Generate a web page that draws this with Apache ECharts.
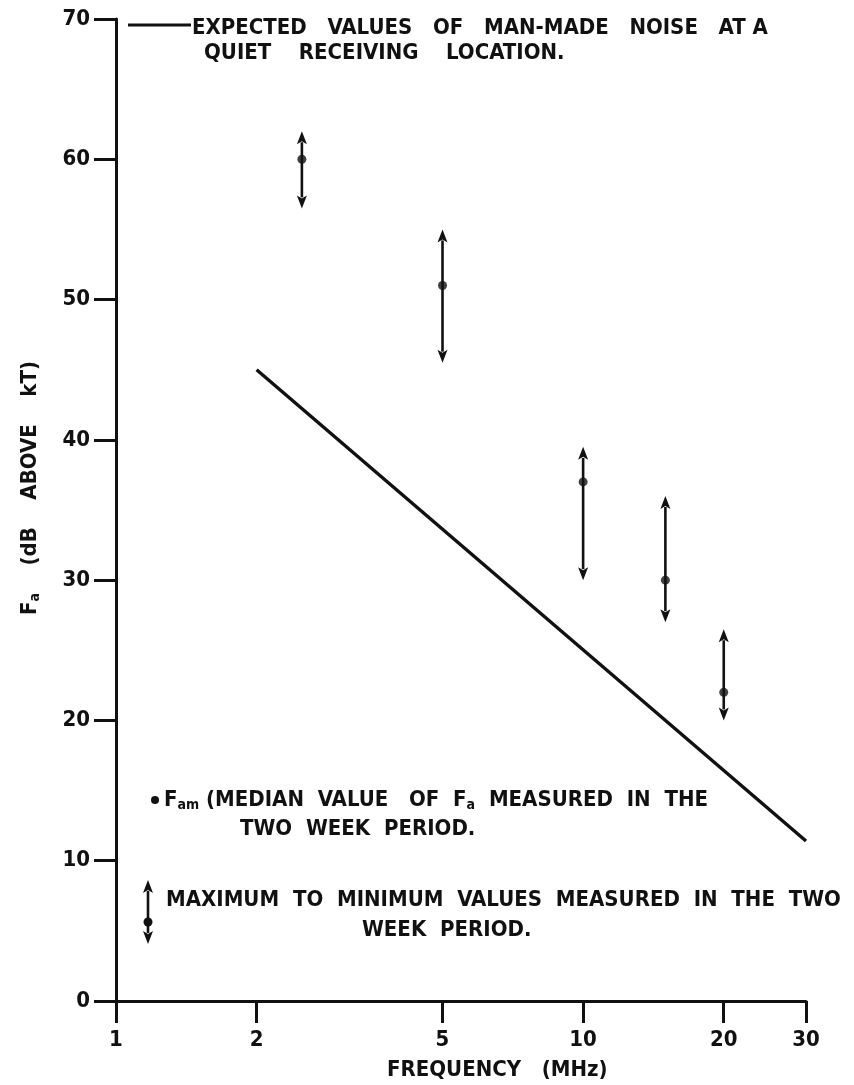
<!DOCTYPE html>
<html>
<head>
<meta charset="utf-8">
<script src="https://cdn.jsdelivr.net/npm/echarts@6/dist/echarts.min.js"></script>
<style>
  html, body { margin: 0; padding: 0; background: #fff; }
  #chart { width: 854px; height: 1085px; }
</style>
</head>
<body>
<div id="chart"></div>
<script>
// Measured noise figure Fa (dB above kT) per frequency (MHz)
const frequencies = [2.5, 5, 10, 15, 20];
const medianFa = [60, 51, 37, 30, 22];
const maxFa = [62, 55, 39.5, 36, 26.5];
const minFa = [56.5, 45.5, 30, 27, 20];

// Expected man-made noise at a quiet receiving location
const expectedFreq = [2, 30];
const expectedFa = [45, 11.4];

// Axis ticks
const xTicks = [1, 2, 5, 10, 20, 30];
const yMin = 0, yMax = 70, yStep = 10;

const FONT = "'DejaVu Sans Condensed', 'DejaVu Sans', sans-serif";
const INK = '#111';
const FS = 22;

const chart = echarts.init(document.getElementById('chart'), null, { renderer: 'canvas' });

const rangeData = frequencies.map((f, i) => [f, maxFa[i], minFa[i]]);
const medianData = frequencies.map((f, i) => [f, medianFa[i]]);
const expectedData = expectedFreq.map((f, i) => [f, expectedFa[i]]);

// Double-headed arrow from minimum to maximum
function arrowShapes(x, yTop, yBot) {
  const ah = 13, aw = 5;
  return [
    { type: 'line', shape: { x1: x, y1: yTop + ah - 2, x2: x, y2: yBot - ah + 2 },
      style: { stroke: INK, lineWidth: 2.6 } },
    { type: 'polygon', shape: { points: [[x, yTop], [x - aw, yTop + ah], [x, yTop + ah - 3], [x + aw, yTop + ah]] },
      style: { fill: INK } },
    { type: 'polygon', shape: { points: [[x, yBot], [x - aw, yBot - ah], [x, yBot - ah + 3], [x + aw, yBot - ah]] },
      style: { fill: INK } }
  ];
}

const textStyle = (size) => ({ fill: INK, font: `bold ${size}px ${FONT}` });
const subRich = {
  f: { fontFamily: FONT, fontWeight: 'bold', fontSize: FS, fill: INK },
  s: { fontFamily: FONT, fontWeight: 'bold', fontSize: 14, fill: INK, padding: [10, 0, 0, 0] },
  t: { fontFamily: FONT, fontWeight: 'bold', fontSize: FS, fill: INK }
};

chart.setOption({
  backgroundColor: '#fff',
  animation: false,
  grid: { left: 116, top: 19, width: 690, height: 982, containLabel: false },
  xAxis: {
    type: 'log',
    logBase: 10,
    min: 1,
    max: 30,
    axisLine: { show: true, lineStyle: { color: INK, width: 3 } },
    axisTick: { show: true, customValues: xTicks, length: 22, inside: false, lineStyle: { color: INK, width: 3 } },
    axisLabel: { show: true, customValues: xTicks, margin: 28, color: INK,
      fontFamily: FONT, fontWeight: 'bold', fontSize: FS },
    splitLine: { show: false },
    minorTick: { show: false }
  },
  yAxis: {
    type: 'value',
    min: yMin,
    max: yMax,
    interval: yStep,
    axisLine: { show: true, lineStyle: { color: INK, width: 3 } },
    axisTick: { show: true, length: 22, inside: false, lineStyle: { color: INK, width: 3 } },
    axisLabel: { margin: 26, color: INK, fontFamily: FONT, fontWeight: 'bold', fontSize: FS },
    splitLine: { show: false }
  },
  series: [
    {
      type: 'line',
      data: expectedData,
      showSymbol: false,
      lineStyle: { color: INK, width: 3.4 },
      silent: true
    },
    {
      type: 'custom',
      data: rangeData,
      renderItem: function (params, api) {
        const top = api.coord([api.value(0), api.value(1)]);
        const bot = api.coord([api.value(0), api.value(2)]);
        return { type: 'group', children: arrowShapes(top[0], top[1], bot[1]) };
      },
      silent: true
    },
    {
      type: 'scatter',
      data: medianData,
      symbol: 'circle',
      symbolSize: 9,
      itemStyle: { color: INK },
      silent: true
    }
  ],
  graphic: [
    // y-axis title
    { type: 'text', x: 30, y: 488, rotation: Math.PI / 2, style: {
        text: '{f|F}{s|a}{t|    (dB    ABOVE    kT)}',
        align: 'center', verticalAlign: 'middle', rich: subRich
      } },
    // legend: expected values
    { type: 'line', shape: { x1: 128, y1: 25, x2: 191, y2: 25 }, style: { stroke: INK, lineWidth: 3.2 } },
    { type: 'text', x: 192, y: 28, style: Object.assign({ text: 'EXPECTED   VALUES   OF   MAN-MADE   NOISE   AT A', textVerticalAlign: 'middle' }, textStyle(FS)) },
    { type: 'text', x: 204, y: 53, style: Object.assign({ text: 'QUIET    RECEIVING    LOCATION.', textVerticalAlign: 'middle' }, textStyle(FS)) },
    // legend: median value
    { type: 'circle', shape: { cx: 155, cy: 800, r: 4 }, style: { fill: INK } },
    { type: 'text', x: 164, y: 800, style: {
        text: '{f|F}{s|am}{t| (MEDIAN  VALUE   OF  }{f|F}{s|a}{t|  MEASURED  IN  THE}',
        textVerticalAlign: 'middle',
        rich: subRich
      } },
    { type: 'text', x: 240, y: 829, style: Object.assign({ text: 'TWO  WEEK  PERIOD.', textVerticalAlign: 'middle' }, textStyle(FS)) },
    // legend: maximum to minimum
    { type: 'group', children: arrowShapes(148, 880, 944).concat([
        { type: 'circle', shape: { cx: 148, cy: 922, r: 4.5 }, style: { fill: INK } }
      ]) },
    { type: 'text', x: 166, y: 900, style: Object.assign({ text: 'MAXIMUM  TO  MINIMUM  VALUES  MEASURED  IN  THE  TWO', textVerticalAlign: 'middle' }, textStyle(FS)) },
    { type: 'text', x: 362, y: 930, style: Object.assign({ text: 'WEEK  PERIOD.', textVerticalAlign: 'middle' }, textStyle(FS)) },
    // x-axis title
    { type: 'text', x: 387, y: 1070, style: Object.assign({ text: 'FREQUENCY   (MHz)', textVerticalAlign: 'middle' }, textStyle(FS)) }
  ]
});
</script>
</body>
</html>
